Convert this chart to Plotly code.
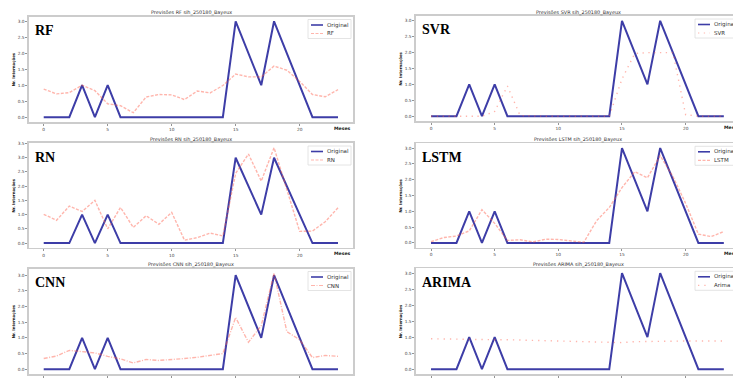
import plotly.graph_objects as go

# ---------------- data ----------------
months = list(range(24))
original = [0, 0, 0, 1, 0, 1, 0, 0, 0, 0, 0, 0, 0, 0, 0, 3, 2, 1, 3, 2, 1, 0, 0, 0]
rf = [0.88, 0.73, 0.77, 1.00, 0.83, 0.42, 0.36, 0.14, 0.63, 0.71, 0.70, 0.55,
      0.82, 0.76, 0.99, 1.35, 1.26, 1.26, 1.60, 1.47, 1.12, 0.71, 0.64, 0.86]
svr = [0.0, 0.0, 0.0, 0.0, 0.0, 0.15, 0.95, 0.02, 0.0, 0.0, 0.0, 0.0,
       0.0, 0.0, 0.0, 1.17, 1.97, 2.0, 2.0, 2.0, 0.05, 0.0, 0.0, 0.0]
rn = [1.01, 0.80, 1.30, 1.11, 1.50, 0.50, 1.25, 0.55, 0.96, 0.66, 1.08, 0.10,
      0.19, 0.35, 0.25, 2.45, 3.13, 2.18, 3.35, 1.92, 0.41, 0.42, 0.75, 1.24]
lstm = [0.04, 0.17, 0.22, 0.38, 1.05, 0.62, 0.08, 0.10, 0.03, 0.12, 0.11, 0.06,
        0.02, 0.70, 1.12, 1.75, 2.25, 2.06, 2.76, 2.10, 1.25, 0.28, 0.20, 0.36]
cnn = [0.34, 0.42, 0.60, 0.57, 0.52, 0.41, 0.33, 0.20, 0.31, 0.28, 0.30, 0.34,
       0.38, 0.45, 0.50, 1.65, 0.86, 1.39, 3.06, 1.20, 0.94, 0.37, 0.44, 0.41]
arima = [0.95, 0.94, 0.94, 0.93, 0.93, 0.92, 0.92, 0.91, 0.91, 0.90, 0.89, 0.89,
         0.88, 0.87, 0.86, 0.83, 0.86, 0.87, 0.87, 0.88, 0.88, 0.88, 0.88, 0.88]

model_labels = ["RF", "SVR", "RN", "LSTM", "CNN", "ARIMA"]
legend_names = ["RF", "SVR", "RN", "LSTM", "CNN", "Arima"]
predictions = [rf, svr, rn, lstm, cnn, arima]
x_ticks = [0, 5, 10, 15, 20]
site = "sih_250180_Bayeux"
x_label = "Meses"
y_label = "Nr. Internações"
orig_name = "Original"

# ---------------- layout / style ----------------
W, H = 733, 378
ORIG_COLOR = "rgba(0,0,139,0.76)"
PRED_COLOR = "rgba(255,90,70,0.45)"
dashes = ["3px,1.5px", "1.3px,4.5px", "3px,1.5px", "3px,1.5px",
          "4px,1.5px,1px,1.5px", "1.3px,5px"]

# panel boxes in window pixels: (left, right, top, bottom), x range, y range, column
panels = [
    ((29, 353, 16.5, 122), (-1.15, 24.17), (-0.15, 3.15), 0),
    ((416, 733, 16, 121), (-1.18, 23.72), (-0.15, 3.15), 1),
    ((29, 353, 143, 247.8), (-1.15, 24.17), (-0.1675, 3.5175), 0),
    ((416, 733, 143.3, 247.7), (-1.18, 23.72), (-0.15, 3.15), 1),
    ((29, 353, 268.5, 374), (-1.15, 24.17), (-0.153, 3.213), 0),
    ((416, 733, 268.3, 374), (-1.18, 23.72), (-0.15, 3.15), 1),
]


def px(x):
    return x / W


def py(y):
    return 1 - y / H


fig = go.Figure()
annotations = []
shapes = []

for i, (box, xr, yr, col) in enumerate(panels):
    n = i + 1
    sx = "" if n == 1 else str(n)
    l, r, t, b = box
    fig.add_trace(go.Scatter(
        x=months, y=original, mode="lines", name=orig_name,
        line=dict(color=ORIG_COLOR, width=2), xaxis="x" + sx, yaxis="y" + sx,
        showlegend=False))
    fig.add_trace(go.Scatter(
        x=months, y=predictions[i], mode="lines", name=legend_names[i],
        line=dict(color=PRED_COLOR, width=1.4, dash=dashes[i]),
        xaxis="x" + sx, yaxis="y" + sx, showlegend=False))

    axis_common = dict(showline=True, linecolor="#cccccc", linewidth=1.6,
                       ticks="outside", ticklen=2, tickwidth=0.7,
                       tickcolor="#666", showgrid=False, zeroline=False,
                       tickfont=dict(size=4.3, color="#444",
                                     family="DejaVu Sans"),
                       fixedrange=True)
    fig.layout["xaxis" + sx] = dict(
        axis_common, domain=[px(l), px(r)], range=list(xr), anchor="y" + sx,
        tickvals=x_ticks, mirror=True)
    fig.layout["yaxis" + sx] = dict(
        axis_common, domain=[py(b), py(t)], range=list(yr), anchor="x" + sx,
        dtick=0.5, tick0=0, tickformat=".1f", mirror=(col == 0))

    # title
    cx = (l + r) / 2 if col == 0 else 578
    annotations.append(dict(
        text=f"Previsões {model_labels[i]} {site}", x=px(cx), y=py(t - 3.8),
        xref="paper", yref="paper", xanchor="center", yanchor="middle",
        showarrow=False, font=dict(size=4.9, color="#333",
                                   family="DejaVu Sans")))
    # big model label
    annotations.append(dict(
        text=f"<b>{model_labels[i]}</b>", x=px(l + 4), y=py(t + 14),
        xref="paper", yref="paper", xanchor="left", yanchor="middle",
        showarrow=False, font=dict(size=14, color="black",
                                   family="Liberation Serif")))
    # y label
    annotations.append(dict(
        text=f"<b>{y_label}</b>", x=px(l - 16), y=py((t + b) / 2),
        xref="paper", yref="paper", xanchor="center", yanchor="middle",
        textangle=-90, showarrow=False,
        font=dict(size=3.9, color="#111", family="DejaVu Sans")))
    # x label
    if col == 0:
        annotations.append(dict(
            text=f"<b>{x_label}</b>", x=px(r), y=py(b + 6),
            xref="paper", yref="paper", xanchor="right", yanchor="middle",
            showarrow=False,
            font=dict(size=4.6, color="#111", family="DejaVu Sans")))
    else:
        annotations.append(dict(
            text=f"<b>{x_label}</b>", x=px(722), y=py(b + 6),
            xref="paper", yref="paper", xanchor="left", yanchor="middle",
            showarrow=False,
            font=dict(size=4.6, color="#111", family="DejaVu Sans")))

    # legend (manual, compact like matplotlib)
    L = 308 if col == 0 else 695
    bt = t + 3
    shapes.append(dict(type="rect", xref="paper", yref="paper",
                       x0=px(L), x1=px(L + 43), y0=py(bt + 19), y1=py(bt),
                       fillcolor="white", line=dict(color="#dddddd", width=0.8),
                       layer="above"))
    for k, (nm, colr, wd, ds) in enumerate([
            (orig_name, ORIG_COLOR, 1.6, "solid"),
            (legend_names[i], PRED_COLOR, 1.2, dashes[i])]):
        yy = bt + 5.5 + k * 8.5
        shapes.append(dict(type="line", xref="paper", yref="paper",
                           x0=px(L + 3), x1=px(L + 15), y0=py(yy), y1=py(yy),
                           line=dict(color=colr, width=wd, dash=ds),
                           layer="above"))
        annotations.append(dict(
            text=nm, x=px(L + 17), y=py(yy), xref="paper", yref="paper",
            xanchor="left", yanchor="middle", showarrow=False,
            font=dict(size=5.5, color="#333", family="DejaVu Sans")))

fig.update_layout(
    width=W, height=H,
    margin=dict(l=0, r=0, t=0, b=0, autoexpand=False),
    paper_bgcolor="white", plot_bgcolor="white",
    showlegend=False, hovermode=False,
    annotations=annotations, shapes=shapes,
)

fig.write_html(
    "out.html",
    config={"displayModeBar": False, "staticPlot": True},
    post_script="document.body.style.margin='0';"
                "document.body.style.overflow='hidden';",
)
